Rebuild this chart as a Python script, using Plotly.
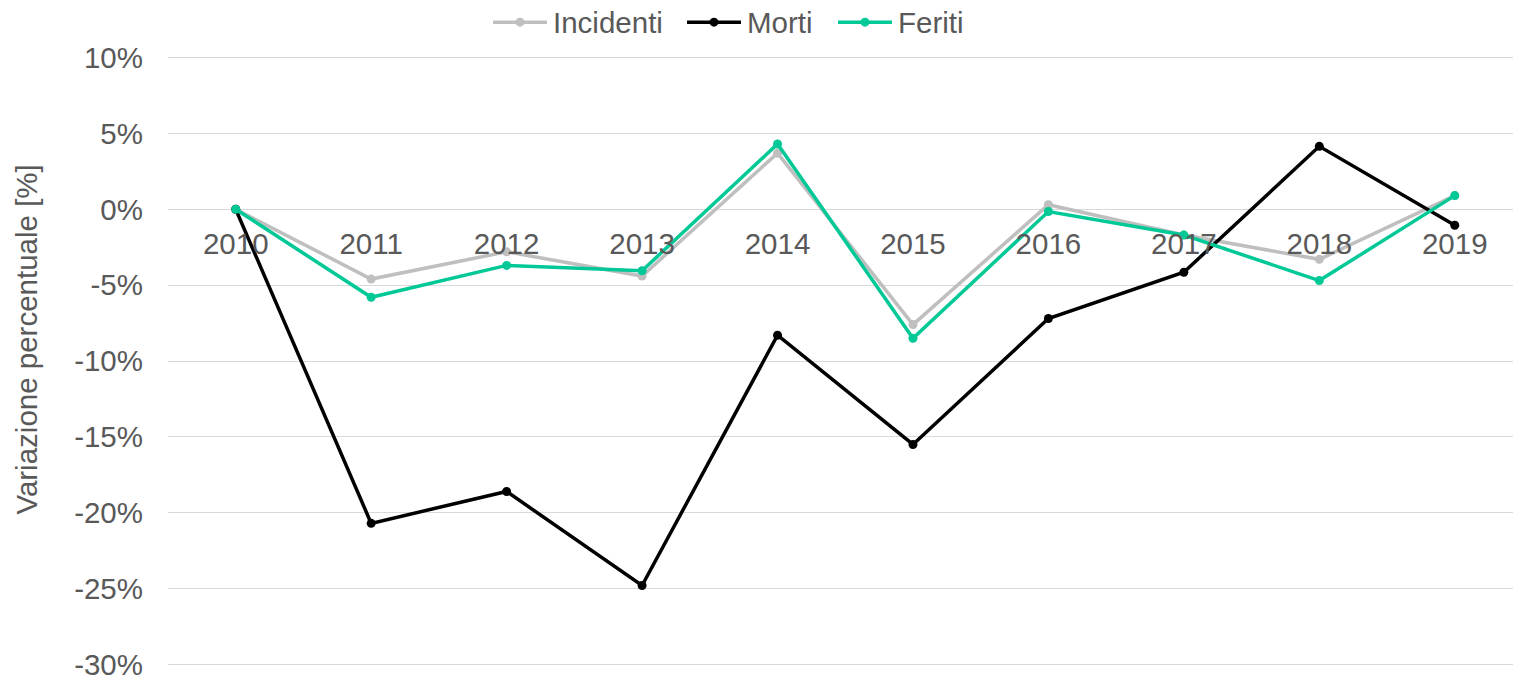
import plotly.graph_objects as go

years = ["2010", "2011", "2012", "2013", "2014", "2015", "2016", "2017", "2018", "2019"]
incidenti = [0.0, -4.6, -2.8, -4.4, 3.7, -7.6, 0.3, -1.7, -3.3, 0.9]
morti = [0.0, -20.7, -18.6, -24.8, -8.3, -15.5, -7.2, -4.15, 4.15, -1.05]
feriti = [0.0, -5.8, -3.7, -4.05, 4.3, -8.5, -0.15, -1.7, -4.7, 0.9]
y_ticks = [-30, -25, -20, -15, -10, -5, 0, 5, 10]
y_ticklabels = ["-30%", "-25%", "-20%", "-15%", "-10%", "-5%", "0%", "5%", "10%"]

series_names = ["Incidenti", "Morti", "Feriti"]
series_values = [incidenti, morti, feriti]
series_colors = ["#BFBFBF", "#000000", "#00C896"]

W, H = 1513, 681
ML, MR, MT, MB = 168, 0, 53, 9
Y0, Y1 = -30.3, 10.3
text_col = "#595959"
font_family = "Liberation Sans, Arial, sans-serif"
FS = 29.5
LW = 3.5

# legend key layout (pixel x of key line start), row center y
legend_key_x = [493, 687, 838]
legend_y = 22
key_len = 54

pw = W - ML - MR
ph = H - MT - MB
def px_x(x):
    return (x - ML) / pw
def px_y(y):
    return (H - MB - y) / ph

fig = go.Figure()
for name, vals, col in zip(series_names, series_values, series_colors):
    fig.add_trace(go.Scatter(
        x=list(range(len(years))), y=vals, name=name,
        mode="lines+markers",
        line=dict(color=col, width=LW),
        marker=dict(color=col, size=9),
        showlegend=False,
    ))

shapes = []
annotations = []
for name, col, kx in zip(series_names, series_colors, legend_key_x):
    shapes.append(dict(type="line", xref="paper", yref="paper",
                       x0=px_x(kx), x1=px_x(kx + key_len),
                       y0=px_y(legend_y), y1=px_y(legend_y),
                       line=dict(color=col, width=LW), layer="above"))
    cx = kx + key_len / 2
    shapes.append(dict(type="circle", xref="paper", yref="paper",
                       x0=px_x(cx - 4.5), x1=px_x(cx + 4.5),
                       y0=px_y(legend_y + 4.5), y1=px_y(legend_y - 4.5),
                       fillcolor=col, line=dict(color=col, width=0), layer="above"))
    annotations.append(dict(text=name, xref="paper", yref="paper",
                            x=px_x(kx + key_len + 4), y=px_y(legend_y),
                            xanchor="left", yanchor="middle", showarrow=False,
                            font=dict(size=FS, color=text_col, family=font_family)))

annotations.append(dict(
    text="Variazione percentuale [%]", textangle=-90,
    xref="paper", yref="paper",
    x=px_x(27), y=px_y(341),
    xanchor="center", yanchor="middle", showarrow=False,
    font=dict(size=FS, color=text_col, family=font_family),
))

zero_pos = (0 - Y0) / (Y1 - Y0)

fig.update_layout(
    width=W, height=H,
    margin=dict(l=ML, r=MR, t=MT, b=MB),
    paper_bgcolor="white", plot_bgcolor="white",
    font=dict(family=font_family, size=FS, color=text_col),
    showlegend=False,
    hovermode=False,
    xaxis=dict(
        tickmode="array", tickvals=list(range(len(years))), ticktext=years,
        range=[-0.5, 9.43], showgrid=False, zeroline=False, showline=False,
        anchor="free", position=zero_pos, ticks="", ticklabelstandoff=14,
        tickfont=dict(size=FS, color=text_col),
    ),
    yaxis=dict(
        range=[Y0, Y1], tickmode="array",
        tickvals=y_ticks, ticktext=y_ticklabels,
        showgrid=True, gridcolor="#D9D9D9", gridwidth=1.3,
        zeroline=False, showline=False, ticks="", ticklabelstandoff=24,
        ticklabeloverflow="allow",
        tickfont=dict(size=FS, color=text_col),
    ),
    shapes=shapes,
    annotations=annotations,
)

fig.write_html("out.html", config={"displayModeBar": False},
               post_script="document.body.style.margin='0';document.body.style.overflow='hidden';")
